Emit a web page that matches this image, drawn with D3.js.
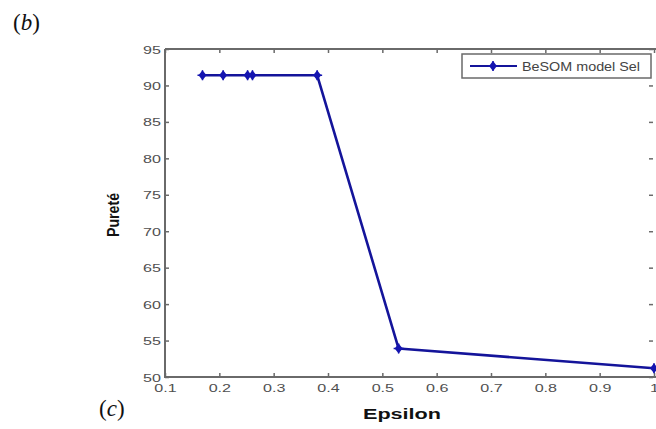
<!DOCTYPE html>
<html>
<head>
<meta charset="utf-8">
<script src="https://cdn.jsdelivr.net/npm/d3@7"></script>
<style>
body { margin: 0; background: #fff; }
svg text { font-family: Arial, 'Liberation Sans', sans-serif; }
</style>
</head>
<body>
<div id="chart"></div>
<script>
let width = 656
let height = 429

let epsilon = [0.169, 0.207, 0.252, 0.261, 0.380, 0.530, 1.0]
let purete = [91.4, 91.4, 91.4, 91.4, 91.4, 53.9, 51.2]
let xTicks = [0.1, 0.2, 0.3, 0.4, 0.5, 0.6, 0.7, 0.8, 0.9, 1]
let yTicks = [50, 55, 60, 65, 70, 75, 80, 85, 90, 95]
let seriesName = 'BeSOM model Sel'

let margins = { 'top': 49, 'right': 2, 'bottom': 52, 'left': 165 }

let xScale = d3.scaleLinear()
	.domain([0.1, 1])
	.range([margins.left, width - margins.right])

let yScale = d3.scaleLinear()
	.domain([50, 95])
	.range([height - margins.bottom, margins.top])

let svg = d3.select('#chart').append('svg')
	.attr('width', width)
	.attr('height', height)

let axisColor = '#6a6a6a'
let labelColor = '#505050'
let stretch = 1.4

// frame
let x0 = xScale(0.1), x1 = xScale(1), y0 = yScale(50), y1 = yScale(95)
svg.append('path')
	.attr('d', `M${x0},${y1}H${x1 + 4}M${x0},${y1}V${y0}H${x1 + 4}`)
	.attr('fill', 'none')
	.attr('stroke', axisColor)
	.attr('stroke-width', 2)

let xAxis = d3.axisBottom(xScale).tickValues(xTicks).tickSize(-4)
	.tickFormat(d => d === 1 ? '1' : d3.format('.1f')(d))
let yAxis = d3.axisLeft(yScale).tickValues(yTicks).tickSize(-4)

let gx = svg.append('g').attr('transform', `translate(0,${y0})`).call(xAxis)
let gy = svg.append('g').attr('transform', `translate(${x0},0)`).call(yAxis)
// mirrored ticks on top and right
let gxt = svg.append('g').attr('transform', `translate(0,${y1})`)
	.call(d3.axisTop(xScale).tickValues(xTicks).tickSize(-4).tickFormat(''))
let gyr = svg.append('g').attr('transform', `translate(${x1 - 1},0)`)
	.call(d3.axisRight(yScale).tickValues(yTicks).tickSize(-4).tickFormat(''))

for (let g of [gx, gy, gxt, gyr]) {
	g.select('.domain').remove()
	g.selectAll('line').attr('stroke', axisColor).attr('stroke-width', 1.5)
	g.selectAll('text')
		.attr('fill', labelColor)
		.style('font-size', '11.5px')
		.style('font-family', 'Arial, sans-serif')
}
gx.selectAll('text')
	.attr('y', 0).attr('dy', 0)
	.attr('transform', `translate(0,15) scale(${stretch},1)`)
gy.selectAll('text')
	.attr('x', 0).attr('dy', '0.35em')
	.attr('transform', `translate(-4,0) scale(${stretch},1)`)

// series
let pts = epsilon.map((e, i) => [e, purete[i]])
let line = d3.line().x(d => xScale(d[0])).y(d => yScale(d[1]))

svg.append('path')
	.datum(pts)
	.attr('d', line)
	.attr('fill', 'none')
	.attr('stroke', '#14149a')
	.attr('stroke-width', 2.6)
	.attr('stroke-linejoin', 'round')

let marker = svg.append('g')
function drawMarker(g, cx, cy) {
	g.append('path')
		.attr('d', `M${cx},${cy - 5}L${cx + 4},${cy}L${cx},${cy + 5}L${cx - 4},${cy}Z`)
		.attr('fill', '#1515b0')
	g.append('path')
		.attr('d', `M${cx - 5},${cy}H${cx + 5}M${cx},${cy - 5}V${cy + 5}`)
		.attr('stroke', '#1515b0')
		.attr('stroke-width', 1.5)
}
pts.forEach(d => drawMarker(marker, xScale(d[0]), yScale(d[1])))

// legend
let lg = svg.append('g')
lg.append('rect')
	.attr('x', 462).attr('y', 54).attr('width', 189).attr('height', 24)
	.attr('fill', '#fff').attr('stroke', axisColor).attr('stroke-width', 1.5)
lg.append('line')
	.attr('x1', 470).attr('x2', 517).attr('y1', 66).attr('y2', 66)
	.attr('stroke', '#14149a').attr('stroke-width', 2)
drawMarker(lg, 493, 66)
lg.append('text')
	.attr('x', 522).attr('y', 70.5)
	.attr('fill', '#444')
	.style('font-size', '13px')
	.attr('textLength', 118)
	.attr('lengthAdjust', 'spacingAndGlyphs')
	.text(seriesName)

// axis titles
svg.append('text')
	.attr('x', 363).attr('y', 419)
	.style('font-size', '14px')
	.style('font-weight', 'bold')
	.attr('fill', '#111')
	.attr('textLength', 78)
	.attr('lengthAdjust', 'spacingAndGlyphs')
	.text('Epsilon')

svg.append('text')
	.attr('transform', 'translate(119,237) rotate(-90) scale(1,1.25)')
	.attr('x', 0).attr('y', 0)
	.style('font-size', '13px')
	.style('font-weight', 'bold')
	.attr('fill', '#111')
	.attr('textLength', 44)
	.attr('lengthAdjust', 'spacingAndGlyphs')
	.text('Pureté')

// panel labels
svg.append('text')
	.attr('x', 13).attr('y', 30)
	.style('font-family', "'Liberation Serif', 'DejaVu Serif', serif")
	.style('font-size', '23px')
	.attr('fill', '#111')
	.html('(<tspan font-style="italic">b</tspan>)')

svg.append('text')
	.attr('x', 99).attr('y', 416)
	.style('font-family', "'Liberation Serif', 'DejaVu Serif', serif")
	.style('font-size', '23px')
	.attr('fill', '#111')
	.html('(<tspan font-style="italic">c</tspan>)')
</script>
</body>
</html>
